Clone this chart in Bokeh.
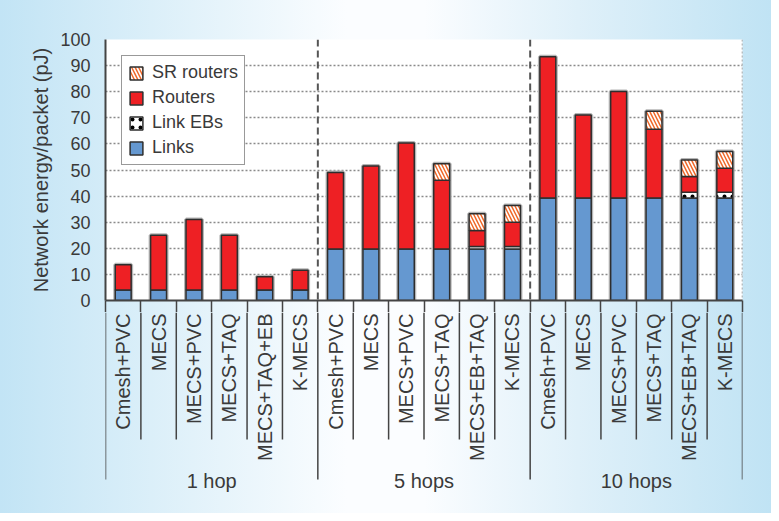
import math
import numpy as np
from bokeh.plotting import figure
from bokeh.models import (ColumnDataSource, Range1d, FixedTicker, Span, Legend,
                          LegendItem, Column)
from bokeh.embed import file_html
from bokeh.resources import INLINE
from bokeh.core.properties import value

# ---------------- data ----------------
groups = ["1 hop", "5 hops", "10 hops"]
group_configs = [
    ["Cmesh+PVC", "MECS", "MECS+PVC", "MECS+TAQ", "MECS+TAQ+EB", "K-MECS"],
    ["Cmesh+PVC", "MECS", "MECS+PVC", "MECS+TAQ", "MECS+EB+TAQ", "K-MECS"],
    ["Cmesh+PVC", "MECS", "MECS+PVC", "MECS+TAQ", "MECS+EB+TAQ", "K-MECS"],
]
links = [4.0, 4.0, 4.0, 4.0, 4.0, 4.0,
         19.7, 19.7, 19.7, 19.7, 19.7, 19.7,
         39.3, 39.3, 39.3, 39.3, 39.3, 39.3]
link_ebs = [0.0, 0.0, 0.0, 0.0, 0.0, 0.0,
            0.0, 0.0, 0.0, 0.0, 1.0, 1.0,
            0.0, 0.0, 0.0, 0.0, 2.2, 2.2]
routers = [9.7, 21.0, 27.0, 21.0, 5.1, 7.6,
           29.3, 31.8, 40.6, 26.4, 6.1, 9.3,
           54.1, 31.8, 40.8, 26.3, 6.0, 9.2]
sr_routers = [0.0, 0.0, 0.0, 0.0, 0.0, 0.0,
              0.0, 0.0, 0.0, 6.3, 6.4, 6.4,
              0.0, 0.0, 0.0, 6.9, 6.3, 6.4]
y_ticks = [0, 10, 20, 30, 40, 50, 60, 70, 80, 90, 100]
y_label = "Network energy/packet (pJ)"
series_labels = ["SR routers", "Routers", "Link EBs", "Links"]

# ---------------- derived ----------------
configs = [c for g in group_configs for c in g]
n = len(configs)
xs = np.arange(n) + 0.5
sizes = [len(g) for g in group_configs]
bounds = np.concatenate([[0], np.cumsum(sizes)])
group_centers = (bounds[:-1] + bounds[1:]) / 2.0

L = np.array(links)
E = np.array(link_ebs)
R = np.array(routers)
S = np.array(sr_routers)
b_l, t_l = np.zeros(n), L
b_e, t_e = t_l, t_l + E
b_r, t_r = t_e, t_e + R
b_s, t_s = t_r, t_r + S


def src(bottom, top):
    m = (top - bottom) > 0
    return ColumnDataSource(dict(x=xs[m], bottom=bottom[m], top=top[m]))


FONT = "Liberation Sans"
TXT = "#3a3a3a"
EDGE = "#2e2e2e"
SEP = "#444444"
W = 771
LEFT, RIGHT, TOP, GAP = 105, 29, 39, 12

# ---------------- main plot ----------------
p = figure(width=W, height=300 + GAP, x_range=Range1d(0, n), y_range=Range1d(0, 100),
           output_backend="svg", toolbar_location=None,
           min_border_left=LEFT, min_border_right=RIGHT, min_border_top=TOP,
           min_border_bottom=GAP)
p.border_fill_color = None
p.background_fill_color = "white"
p.outline_line_color = None

# x axis: only the baseline and the top parts of the category separators
p.xaxis.ticker = FixedTicker(ticks=[float(v) for v in range(0, n + 1)])
p.xaxis.major_label_text_font_size = "1px"
p.xaxis.major_label_text_color = None
p.xaxis.major_label_standoff = 0
p.xaxis.major_tick_in = 0
p.xaxis.major_tick_out = GAP
p.xaxis.major_tick_line_color = SEP
p.xaxis.major_tick_line_width = 1.5
p.xaxis.minor_tick_line_color = None
p.xaxis.axis_line_color = SEP
p.xaxis.axis_line_width = 2

p.yaxis.ticker = FixedTicker(ticks=y_ticks)
p.yaxis.axis_label = y_label
p.yaxis.axis_label_text_font = FONT
p.yaxis.axis_label_text_font_size = "20px"
p.yaxis.axis_label_text_font_style = "normal"
p.yaxis.axis_label_text_color = TXT
p.yaxis.axis_label_standoff = 5
p.yaxis.major_label_text_font = FONT
p.yaxis.major_label_text_font_size = "18px"
p.yaxis.major_label_text_color = TXT
p.yaxis.major_label_standoff = 9
p.yaxis.major_tick_line_color = None
p.yaxis.minor_tick_line_color = None
p.yaxis.axis_line_color = SEP
p.yaxis.axis_line_width = 2

p.xgrid.visible = False
p.ygrid.ticker = FixedTicker(ticks=y_ticks)
p.ygrid.grid_line_color = "#8a8a8a"
p.ygrid.grid_line_dash = "2 2"
p.ygrid.grid_line_width = 1.5

# frame border / group dividers
p.add_layout(Span(location=n, dimension="height", line_color="#8a8a8a",
                  line_dash="2 2", line_width=1.5))
for b in bounds[1:-1]:
    p.add_layout(Span(location=float(b), dimension="height", line_color="#555555",
                      line_dash="7 4", line_width=2))

BW = 0.45
# soft halo around each stacked bar
p.vbar(x="x", bottom="bottom", top="top", width=BW, source=src(np.zeros(n), t_s),
       fill_color=None, line_color="#b5b5b5", line_width=4)
r_links = p.vbar(x="x", bottom="bottom", top="top", width=BW, source=src(b_l, t_l),
                 fill_color="#6598d0", line_color=EDGE, line_width=1.5)
r_ebs = p.vbar(x="x", bottom="bottom", top="top", width=BW, source=src(b_e, t_e),
               fill_color="white", hatch_pattern="dot", hatch_color="black",
               hatch_scale=8, hatch_weight=2, line_color=EDGE, line_width=1.5)
r_routers = p.vbar(x="x", bottom="bottom", top="top", width=BW, source=src(b_r, t_r),
                   fill_color="#ee2024", line_color=EDGE, line_width=1.5)
r_sr = p.vbar(x="x", bottom="bottom", top="top", width=BW, source=src(b_s, t_s),
              fill_color="white", hatch_pattern="\\", hatch_color="#f0692a",
              hatch_scale=7, hatch_weight=1.5, line_color=EDGE, line_width=1.5)

legend = Legend(items=[
    LegendItem(label=series_labels[0], renderers=[r_sr]),
    LegendItem(label=series_labels[1], renderers=[r_routers]),
    LegendItem(label=series_labels[2], renderers=[r_ebs]),
    LegendItem(label=series_labels[3], renderers=[r_links]),
], location="top_left", margin=16, padding=6, spacing=4, label_standoff=8,
    glyph_width=16, glyph_height=16, label_height=21,
    label_text_font=FONT, label_text_font_size="18px", label_text_color=TXT,
    border_line_color="#333333", border_line_width=1.5,
    background_fill_color="white", background_fill_alpha=1.0)
p.add_layout(legend)

# ---------------- category labels (below) ----------------
H2 = 213 - GAP
q = figure(width=W, height=H2, x_range=p.x_range, y_range=Range1d(-H2, 0),
           output_backend="svg", toolbar_location=None,
           x_axis_location=None, y_axis_location=None,
           min_border_left=LEFT, min_border_right=RIGHT, min_border_top=0,
           min_border_bottom=0)
q.border_fill_color = None
q.background_fill_color = None
q.outline_line_color = None
q.grid.visible = False

bset = set(bounds.tolist())
inner = [float(v) for v in range(1, n) if v not in bset]
q.segment(x0=inner, x1=inner, y0=[0] * len(inner), y1=[-(139 - GAP)] * len(inner),
          line_color=SEP, line_width=1.5)
outer = [float(v) for v in bounds]
q.segment(x0=outer, x1=outer, y0=[0] * len(outer), y1=[-(179 - GAP)] * len(outer),
          line_color=SEP, line_width=1.5)
q.text(x=xs, y=[-(13 - GAP)] * n, text=configs, angle=math.pi / 2,
       text_align="right", text_baseline="middle", text_font=value(FONT),
       text_font_size="20px", text_color=TXT)
q.text(x=group_centers, y=[-(180 - GAP)] * len(groups), text=groups,
       text_align="center", text_baseline="middle", text_font=value(FONT),
       text_font_size="20px", text_color=TXT)

layout = Column(p, q, spacing=0, styles={
    "background": "linear-gradient(to right, #c2e4f5 0%, #e2f2fa 25%, #fbfdff 45%, "
                  "#fbfdff 55%, #dff0f9 75%, #c0e3f4 100%)"})

open("out.html", "w").write(file_html(layout, INLINE))
